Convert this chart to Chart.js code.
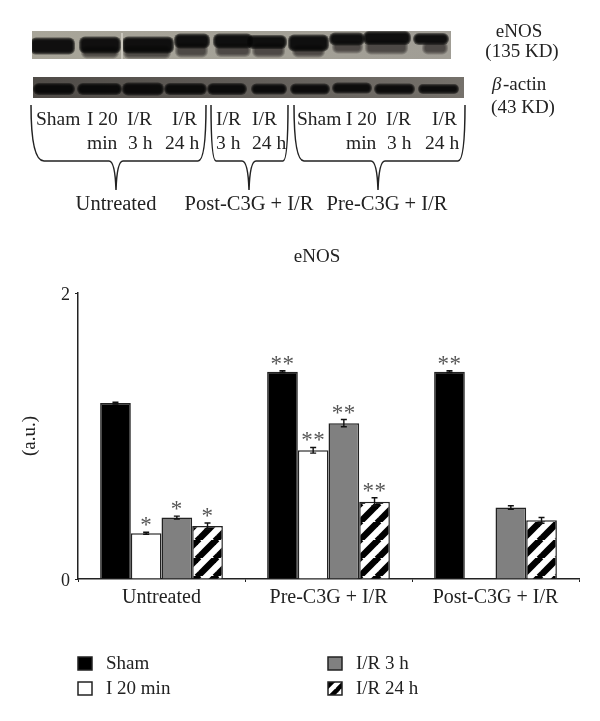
<!DOCTYPE html>
<html>
<head>
<meta charset="utf-8">
<style>
    html, body { margin: 0; padding: 0; background: #fff; }
    #wrap { position: relative; width: 600px; height: 721px; }
</style>
<script src="https://cdn.jsdelivr.net/npm/chart.js@4/dist/chart.umd.min.js"></script>
</head>
<body>
<div id="wrap"><canvas id="enosChart" width="600" height="721"></canvas></div>
<script>
// Chart data
const categories = ['Untreated', 'Pre-C3G + I/R', 'Post-C3G + I/R'];
const seriesNames = ['Sham', 'I 20 min', 'I/R 3 h', 'I/R 24 h'];
const shamValues = [1.23, 1.45, 1.45];
const i20Values = [0.32, 0.90, null];
const ir3Values = [0.43, 1.09, 0.50];
const ir24Values = [0.37, 0.54, 0.41];
const shamErrors = [0.006, 0.006, 0.006];
const i20Errors = [0.007, 0.02, null];
const ir3Errors = [0.01, 0.025, 0.012];
const ir24Errors = [0.022, 0.028, 0.02];
const shamMarks = ['', '**', '**'];
const i20Marks = ['*', '**', ''];
const ir3Marks = ['*', '**', ''];
const ir24Marks = ['*', '**', ''];
const yTicks = [0, 2];

const serif = '"Liberation Serif", serif';
const ink = '#222';

function hatchPattern(size, lineWidth) {
    const tile = document.createElement('canvas');
    tile.width = size;
    tile.height = size;
    const c = tile.getContext('2d');
    c.fillStyle = '#fff';
    c.fillRect(0, 0, size, size);
    c.strokeStyle = '#000';
    c.lineWidth = lineWidth;
    for (let i = -1; i <= 1; i++) {
        c.beginPath();
        c.moveTo(i * size - 1, size + 1);
        c.lineTo(i * size + size + 1, -1);
        c.stroke();
    }
    return c.createPattern(tile, 'repeat');
}

const barHatch = hatchPattern(18, 6.5);
const keyHatch = hatchPattern(13, 4.5);

// Western blot strips, painted as soft dark bands
const enosBands = [
    [33, 72, 46, 11], [82, 118, 45, 11], [125, 171, 45, 11], [177, 207, 41, 9], [216, 250, 41, 9],
    [250, 284, 42, 8], [291, 326, 43, 11], [332, 362, 39, 7], [366, 408, 38, 8], [416, 446, 39, 6]
];
const enosSmears = [
    [84, 116, 52, 7], [126, 168, 52, 8], [178, 205, 50, 9], [218, 248, 50, 8],
    [255, 282, 50, 9], [295, 322, 51, 7], [335, 360, 47, 7], [368, 405, 47, 9], [425, 445, 48, 7]
];
const actinBands = [
    [36, 72, 89, 6], [80, 119, 89, 6], [125, 161, 89, 7], [167, 204, 89, 6], [210, 244, 89, 6],
    [254, 284, 89, 5], [293, 327, 89, 5], [335, 369, 88, 5], [377, 412, 89, 5], [421, 456, 89, 4]
];

function softRect(ctx, b, spread, alpha) {
    ctx.globalAlpha = alpha;
    for (let k = spread; k >= 0; k--) {
        ctx.beginPath();
        ctx.roundRect(b[0] - k, b[2] - b[3] / 2 - k, b[1] - b[0] + 2 * k, b[3] + 2 * k, 3 + k);
        ctx.fill();
    }
    ctx.globalAlpha = 1;
}

function drawStrip(ctx, x, y, w, h, baseLeft, baseRight, bands, smears) {
    ctx.save();
    ctx.beginPath();
    ctx.rect(x, y, w, h);
    ctx.clip();
    const base = ctx.createLinearGradient(x, 0, x + w, 0);
    base.addColorStop(0, baseLeft);
    base.addColorStop(1, baseRight);
    ctx.fillStyle = base;
    ctx.fillRect(x, y, w, h);
    ctx.fillStyle = '#1a1816';
    smears.forEach(s => softRect(ctx, s, 3, 0.22));
    ctx.fillStyle = '#060505';
    bands.forEach(b => softRect(ctx, b, 3, 0.5));
    ctx.restore();
}

function drawBrace(ctx, left, insetLeft, mid, insetRight, right) {
    const top = 105, low = 161, tip = 190;
    ctx.beginPath();
    ctx.moveTo(left, top);
    ctx.bezierCurveTo(left, 138, left + insetLeft * 0.25, low, left + insetLeft, low);
    ctx.lineTo(mid - 7, low);
    ctx.quadraticCurveTo(mid - 1, low, mid, tip);
    ctx.quadraticCurveTo(mid + 1, low, mid + 7, low);
    ctx.lineTo(right - insetRight, low);
    ctx.bezierCurveTo(right - insetRight * 0.25, low, right, 138, right, top);
    ctx.stroke();
}

function label(ctx, text, x, y, align) {
    ctx.textAlign = align || 'left';
    ctx.fillText(text, x, y);
}

const blotPlugin = {
    id: 'blotPanel',
    beforeDraw(chart) {
        const ctx = chart.ctx;
        drawStrip(ctx, 32, 31, 419, 28, '#a8a599', '#a09d95', enosBands, enosSmears);
        ctx.fillStyle = '#c9c6bc';
        ctx.fillRect(121, 33, 2, 26);
        drawStrip(ctx, 33, 77, 431, 21, '#4f4b47', '#75716b', actinBands, []);

        ctx.save();
        ctx.strokeStyle = ink;
        ctx.lineWidth = 1.5;
        drawBrace(ctx, 31, 13, 116, 8, 206);
        drawBrace(ctx, 211, 5, 249, 5, 288);
        drawBrace(ctx, 294, 10, 378, 7, 465);

        ctx.fillStyle = ink;
        ctx.font = '19.5px ' + serif;
        ctx.textBaseline = 'middle';
        [['Sham', 36, 120], ['I 20', 87, 120], ['I/R', 127, 120], ['I/R', 172, 120],
            ['min', 87, 144], ['3 h', 128, 144], ['24 h', 165, 144],
            ['I/R', 216, 120], ['I/R', 252, 120], ['3 h', 216, 144], ['24 h', 252, 144],
            ['Sham', 297, 120], ['I 20', 346, 120], ['I/R', 386, 120], ['I/R', 432, 120],
            ['min', 346, 144], ['3 h', 387, 144], ['24 h', 425, 144]
        ].forEach(t => label(ctx, t[0], t[1], t[2]));

        ctx.font = '20.5px ' + serif;
        label(ctx, 'Untreated', 116, 205, 'center');
        label(ctx, 'Post-C3G + I/R', 249, 205, 'center');
        label(ctx, 'Pre-C3G + I/R', 387, 205, 'center');

        ctx.font = '19px ' + serif;
        label(ctx, 'eNOS', 519, 32, 'center');
        label(ctx, '(135 KD)', 522, 52, 'center');
        label(ctx, '(43 KD)', 523, 108, 'center');
        label(ctx, 'eNOS', 317, 257, 'center');
        ctx.font = 'italic 19px ' + serif;
        label(ctx, 'β', 492, 85);
        ctx.font = '19px ' + serif;
        label(ctx, '-actin', 503, 85);
        ctx.restore();
    }
};

const errorPlugin = {
    id: 'errorMarks',
    afterDatasetsDraw(chart) {
        const ctx = chart.ctx;
        const y = chart.scales.y;
        ctx.save();
        chart.data.datasets.forEach((ds, i) => {
            chart.getDatasetMeta(i).data.forEach((bar, j) => {
                if (ds.data[j] === null) return;
                const top = y.getPixelForValue(ds.data[j] + ds.errors[j]);
                const bottom = y.getPixelForValue(ds.data[j] - ds.errors[j]);
                ctx.strokeStyle = '#111';
                ctx.lineWidth = 1.4;
                ctx.beginPath();
                ctx.moveTo(bar.x, top);
                ctx.lineTo(bar.x, bottom);
                ctx.moveTo(bar.x - 3, top);
                ctx.lineTo(bar.x + 3, top);
                ctx.moveTo(bar.x - 3, bottom);
                ctx.lineTo(bar.x + 3, bottom);
                ctx.stroke();

                if (ds.marks[j]) {
                    ctx.fillStyle = '#555';
                    ctx.font = '23px ' + serif;
                    ctx.letterSpacing = '0.5px';
                    ctx.textAlign = 'center';
                    ctx.textBaseline = 'alphabetic';
                    ctx.fillText(ds.marks[j], bar.x, top);
                    ctx.letterSpacing = '0px';
                }
            });
        });
        ctx.restore();
    }
};

const keyPlugin = {
    id: 'sideKey',
    afterDraw(chart) {
        const ctx = chart.ctx;
        const spots = [[78, 664], [78, 689], [328, 664], [328, 689]];
        ctx.save();
        ctx.font = '19px ' + serif;
        ctx.textBaseline = 'middle';
        chart.data.datasets.forEach((ds, i) => {
            const sx = spots[i][0], sy = spots[i][1];
            ctx.fillStyle = i === 3 ? keyHatch : ds.backgroundColor;
            ctx.fillRect(sx, sy - 7, 14, 13);
            ctx.strokeStyle = ink;
            ctx.lineWidth = 1.5;
            ctx.strokeRect(sx, sy - 7, 14, 13);
            ctx.fillStyle = ink;
            label(ctx, seriesNames[i], sx + 28, sy);
        });
        ctx.restore();
    }
};

function makeDataset(i, values, errors, marks, fill) {
    return {
        label: seriesNames[i],
        data: values,
        errors: errors,
        marks: marks,
        backgroundColor: fill,
        borderColor: ink,
        borderWidth: 1.5,
        categoryPercentage: 0.735,
        barPercentage: 1
    };
}

new Chart(document.getElementById('enosChart').getContext('2d'), {
    type: 'bar',
    data: {
        labels: categories,
        datasets: [
            makeDataset(0, shamValues, shamErrors, shamMarks, '#000'),
            makeDataset(1, i20Values, i20Errors, i20Marks, '#fff'),
            makeDataset(2, ir3Values, ir3Errors, ir3Marks, '#808080'),
            makeDataset(3, ir24Values, ir24Errors, ir24Marks, barHatch)
        ]
    },
    options: {
        responsive: false,
        animation: false,
        layout: { padding: { top: 293, right: 21 } },
        plugins: {
            legend: { display: false },
            title: { display: false },
            tooltip: { enabled: false }
        },
        scales: {
            x: {
                afterFit: scale => { scale.height = 142; },
                grid: { drawOnChartArea: false, tickLength: 3, color: ink, tickColor: ink },
                border: { color: ink, width: 1.5 },
                ticks: { color: ink, font: { family: serif, size: 20 }, padding: 4, maxRotation: 0 }
            },
            y: {
                min: 0,
                max: 2,
                afterFit: scale => { scale.width = 78; },
                afterBuildTicks: scale => { scale.ticks = yTicks.map(v => ({ value: v })); },
                grid: { drawOnChartArea: false, tickLength: 3, color: ink, tickColor: ink },
                border: { color: ink, width: 1.5 },
                title: {
                    display: true,
                    text: '(a.u.)',
                    color: ink,
                    font: { family: serif, size: 19 },
                    padding: { top: 19, bottom: 0 }
                },
                ticks: { color: ink, font: { family: serif, size: 18 }, padding: 5, labelOffset: 2 }
            }
        }
    },
    plugins: [blotPlugin, errorPlugin, keyPlugin]
});
</script>
</body>
</html>
